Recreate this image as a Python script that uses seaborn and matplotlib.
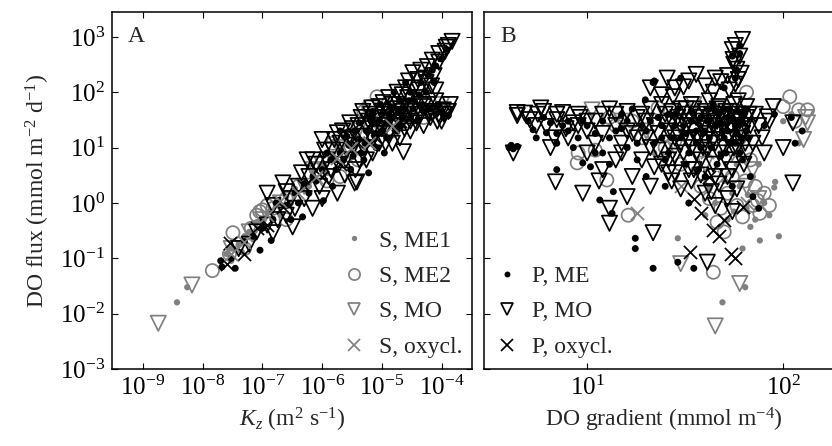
import matplotlib
matplotlib.use("Agg")
import matplotlib.pyplot as plt
from matplotlib.lines import Line2D
from matplotlib.ticker import FixedLocator, LogFormatterMathtext, NullLocator
import seaborn as sns

sns.set_theme(style="ticks")
plt.rcParams["font.family"] = ["Liberation Serif", "DejaVu Serif"]
plt.rcParams["mathtext.fontset"] = "custom"
plt.rcParams["mathtext.rm"] = "Liberation Serif"
plt.rcParams["mathtext.it"] = "Liberation Serif:italic"

GRAY = "#808080"
BLACK = "#000000"

# tick positions
a_xticks = [1e-9, 1e-8, 1e-7, 1e-6, 1e-5, 1e-4]
b_xticks = [10, 100]
yticks = [1e-3, 1e-2, 1e-1, 1e0, 1e1, 1e2, 1e3]

# ---- panel A: (Kz [m2 s-1], DO flux [mmol m-2 d-1]) ----
a_s_me1 = [(3.7e-9, 0.016), (5.5e-9, 0.03), (2.5e-8, 0.12), (3e-8, 0.15), (4e-8, 0.18),
           (5e-8, 0.25), (6e-8, 0.3), (8e-8, 0.45), (1e-7, 0.5), (1.3e-7, 0.7), (1.8e-7, 0.9),
           (2.5e-7, 1.3), (3.5e-7, 1.8), (5e-7, 2.5), (7e-7, 3.5), (1e-6, 5), (1.5e-6, 7),
           (2e-6, 9), (3e-6, 12), (4e-6, 15), (6e-6, 20), (8e-6, 25), (1.2e-5, 35), (3e-8, 0.09),
           (4.5e-8, 0.13), (7e-8, 0.22), (2e-7, 0.6), (3e-7, 1.0), (6e-7, 2.0), (1.2e-6, 3.5)]
a_s_me2 = [(1.45e-8, 0.06), (2.8e-8, 0.12), (3.2e-8, 0.29), (5e-8, 0.15), (6.5e-8, 0.35),
           (8e-8, 0.6), (1e-7, 0.75), (1.2e-7, 0.9), (9e-8, 0.7), (1.5e-7, 0.8), (2.5e-7, 1.2),
           (4e-7, 2.0), (8e-7, 4), (1.2e-6, 2.5), (2e-6, 3), (3e-6, 15), (5e-6, 45), (6e-6, 55),
           (8.3e-6, 83), (1e-5, 30), (1.5e-5, 20), (2e-5, 40), (3e-5, 60), (5e-5, 35), (7e-5, 45),
           (1.1e-4, 50), (4e-6, 6), (1.5e-6, 12), (2.5e-7, 0.5)]
a_s_mo = [(1.8e-9, 0.0067), (6.6e-9, 0.033), (3e-8, 0.15), (6e-8, 0.3), (1e-7, 0.5),
          (2e-7, 1.0), (5e-7, 2), (1e-6, 5), (2e-6, 10), (4e-6, 20), (1e-5, 30), (2e-5, 50),
          (6e-5, 40), (1e-4, 60), (3e-6, 8), (7e-7, 4)]
a_s_ox = [(3e-8, 0.12), (5e-8, 0.2), (1.2e-7, 0.6), (2e-7, 1.1), (4e-7, 1.5), (8e-7, 3),
          (3e-6, 10), (6e-6, 12), (1.5e-5, 25), (1.8e-6, 6.5)]
a_p_me = [(2.1e-8, 0.07), (3.5e-8, 0.066), (9.1e-8, 0.14), (1.4e-7, 0.21), (4.7e-7, 0.56),
          (1.05e-6, 1.1), (2e-8, 0.09), (3e-8, 0.1), (5e-8, 0.2), (7e-8, 0.25), (1e-7, 0.35),
          (1.5e-7, 0.5), (2.5e-7, 0.9), (3.5e-7, 1.5), (5e-7, 2.2), (7e-7, 3), (1e-6, 4),
          (1.4e-6, 6), (2e-6, 8), (2.8e-6, 11), (4e-6, 14), (5.5e-6, 20), (7e-6, 28), (1e-5, 40),
          (1.4e-5, 55), (2e-5, 70), (3e-5, 100), (4.5e-5, 150), (6e-5, 200), (8e-5, 300),
          (1e-4, 400), (1.2e-4, 600), (3e-6, 4), (5e-6, 6), (8e-6, 10), (1.2e-5, 15), (2e-5, 25),
          (3e-5, 35), (5e-5, 45), (8e-5, 40), (6e-6, 3.5), (1.5e-6, 2), (1e-5, 20), (2e-6, 20),
          (1.7e-7, 1.0), (3e-7, 0.5), (4e-7, 1.0), (6e-7, 1.5), (8e-7, 2.5), (1.2e-6, 8),
          (1.7e-6, 4), (2.3e-6, 6), (3.5e-6, 20), (4.5e-6, 8), (6e-6, 12), (7e-6, 45), (9e-6, 30),
          (1.1e-5, 8), (1.3e-5, 40), (1.6e-5, 100), (1.8e-5, 20), (2.4e-5, 50), (2.5e-5, 150),
          (3.5e-5, 70), (4e-5, 30), (5.5e-5, 100), (7e-5, 250), (9e-5, 60), (1.1e-4, 35),
          (2.6e-6, 16), (3.3e-6, 7), (4.2e-6, 28), (5.2e-6, 12), (6.2e-6, 35), (8e-6, 18),
          (9.5e-6, 60), (1.2e-5, 28), (1.5e-5, 35), (1.9e-5, 45), (2.3e-5, 35), (2.8e-5, 70),
          (3.3e-5, 50), (4.2e-5, 90), (4.8e-5, 60), (6.5e-5, 50), (7.5e-5, 150), (1e-4, 45),
          (1.3e-4, 38)]
a_p_mo = [(2.2e-7, 2.3), (5.6e-7, 6), (1e-6, 14), (1.8e-6, 18.5), (2.9e-6, 28), (6.8e-6, 52),
          (1.05e-5, 65), (1.8e-5, 100), (3.3e-5, 225), (5.8e-5, 290), (1.5e-4, 830),
          (1.2e-4, 650), (9e-5, 500), (7e-5, 380), (1.07e-4, 48), (7e-5, 42), (4.4e-5, 45),
          (2.6e-5, 40), (1.8e-5, 35), (2.3e-5, 8.4), (3.5e-6, 2.3), (1.8e-6, 1.5), (3.8e-6, 2.4),
          (6.9e-7, 0.8), (3.2e-7, 0.37), (1.5e-7, 0.29), (1e-6, 1.2), (3e-7, 1.2), (4e-7, 2),
          (6e-7, 3), (8e-7, 5), (1.2e-6, 6), (1.5e-6, 9), (2e-6, 12), (2.5e-6, 6), (3e-6, 15),
          (4e-6, 25), (5e-6, 10), (6e-6, 30), (8e-6, 18), (1e-5, 45), (1.2e-5, 25), (1.5e-5, 60),
          (2e-5, 15), (2.5e-5, 120), (3e-5, 30), (4e-5, 170), (5e-5, 25), (6e-5, 60), (8e-5, 110),
          (1e-4, 30), (4e-5, 80), (1.5e-5, 12), (7e-6, 8), (3e-5, 20), (4e-8, 0.15), (8e-8, 0.3),
          (1.2e-7, 0.4), (1.5e-7, 0.9), (2.5e-7, 0.6), (6e-8, 0.18),
          (1.2e-7, 1.5), (1.8e-7, 0.5), (2.5e-7, 1.6), (3.5e-7, 0.8), (4.5e-7, 3.5), (5e-7, 1.2),
          (7e-7, 6), (9e-7, 2), (1.1e-6, 9), (1.3e-6, 3), (1.6e-6, 14), (1.9e-6, 5), (2.2e-6, 20),
          (2.6e-6, 9), (3.2e-6, 22), (3.6e-6, 4), (4.5e-6, 35), (5e-6, 16), (5.5e-6, 6),
          (6.5e-6, 40), (7.5e-6, 25), (9e-6, 12), (9e-6, 55), (1.1e-5, 35), (1.3e-5, 80),
          (1.3e-5, 18), (1.7e-5, 50), (1.7e-5, 25), (2.2e-5, 90), (2.2e-5, 30), (2.8e-5, 160),
          (2.8e-5, 55), (3.5e-5, 40), (3.5e-5, 120), (4.5e-5, 250), (4.5e-5, 60), (5.5e-5, 150),
          (6.5e-5, 35), (7.5e-5, 200), (9e-5, 40), (9e-5, 350), (1.3e-4, 45), (1.3e-4, 700),
          (1.4e-6, 4), (2.4e-6, 3.2), (2.7e-6, 14), (3.4e-6, 11), (4.2e-6, 6), (4.8e-6, 45),
          (5.8e-6, 22), (7e-6, 14), (8.5e-6, 35), (1.0e-5, 22), (1.15e-5, 12), (1.4e-5, 40),
          (1.6e-5, 28), (1.9e-5, 60), (2.1e-5, 45), (2.4e-5, 22), (2.7e-5, 80), (3.2e-5, 45),
          (3.8e-5, 28), (4.2e-5, 110), (5e-5, 55), (5.2e-5, 180), (6.2e-5, 45), (6.8e-5, 130),
          (8e-5, 70), (8.5e-5, 30), (1.1e-4, 40), (1.15e-4, 550), (1.4e-4, 60)]
a_p_ox = [(2.9e-8, 0.19), (5e-8, 0.12), (2.5e-8, 0.08), (8e-8, 0.35), (1.2e-7, 0.4),
          (2.2e-7, 0.85), (5e-7, 2), (1e-6, 3), (2e-6, 5), (4e-6, 12), (8e-6, 15), (2e-5, 30)]

# ---- panel B: (DO gradient [mmol m-4], DO flux [mmol m-2 d-1]) ----
b_s_me1 = [(49, 0.016), (64, 0.03), (76, 0.21), (68, 0.37), (91, 2.4), (90, 1.9), (29, 0.23),
           (40, 0.6), (45, 1.0), (52, 0.5), (55, 1.5), (60, 2), (65, 0.8), (70, 3), (72, 0.5),
           (80, 1.0), (58, 5), (48, 8), (85, 0.6), (95, 0.25), (62, 0.15), (110, 40), (120, 12),
           (100, 30), (35, 4), (22, 8), (30, 20), (45, 30), (56, 0.7), (66, 1.4), (50, 2.5),
           (75, 5), (42, 1.8)]
b_s_me2 = [(8.9, 5.3), (12.6, 2.6), (16.2, 0.6), (44, 0.056), (74, 1.1), (76, 0.65), (62, 0.56),
           (108, 83), (133, 48), (120, 48), (23, 52), (9, 8), (14, 25), (19, 15), (25, 10),
           (30, 5), (38, 2), (42, 1.2), (48, 0.8), (55, 3), (60, 15), (68, 6), (72, 2), (80, 1.5),
           (85, 0.9), (50, 0.3), (100, 55), (115, 30), (65, 100), (45, 45), (52, 1.5), (58, 0.9),
           (64, 2.5), (46, 0.45), (70, 0.9), (13, 35), (17, 30), (11, 9)]
b_s_mo = [(10.6, 48), (30, 0.08), (60, 0.035), (45, 0.006), (133, 28), (127, 14), (15, 30),
          (20, 20), (28, 10), (40, 5), (55, 8), (65, 2), (70, 4), (75, 1.2), (130, 35), (35, 60)]
b_s_ox = [(18, 0.66), (41, 8.4), (50, 3), (65, 1), (30, 2)]
b_p_me = [(4.0, 10), (4.2, 9.5), (4.4, 10.5), (4.1, 11), (5.0, 30), (5.3, 21), (6.2, 18.5),
          (7.0, 12), (7.0, 4), (9.5, 5.3), (10.4, 4.5), (11.6, 1.13), (13.6, 1.6), (13.4, 0.65),
          (17.6, 0.23), (17.6, 0.15), (21.7, 0.066), (29, 0.085), (35, 0.066), (8, 20), (9, 15),
          (10, 25), (12, 30), (14, 20), (15, 40), (17, 50), (19.8, 73), (21.7, 150), (16, 10),
          (18, 6), (20, 3), (22, 12), (24, 25), (26, 8), (28, 40), (30, 15), (32, 5), (34, 30),
          (36, 20), (38, 10), (40, 3), (42, 50), (45, 25), (48, 7), (50, 15), (52, 35), (55, 2),
          (57, 12), (60, 500), (58, 250), (62, 6), (65, 20), (68, 3), (70, 1.3), (75, 0.8),
          (80, 25), (90, 40), (110, 35), (115, 12), (125, 20), (6, 35), (11, 8), (13, 5),
          (25, 2), (33, 1),
          (20, 20), (23, 35), (25, 6), (27, 15), (29, 50), (31, 25), (33, 8), (35, 40), (37, 4),
          (39, 18), (41, 30), (43, 10), (44, 60), (46, 5), (47, 40), (49, 20), (51, 8), (53, 50),
          (54, 12), (56, 30), (58, 18), (60, 8), (63, 40), (66, 15), (19, 25), (16, 30),
          (13, 15), (12, 8), (9.5, 30), (8.5, 10), (7.5, 25), (6.5, 28), (5.5, 15), (60, 700),
          (55, 450), (57, 180), (50, 120), (30, 180), (22, 160),
          (21, 30), (24, 15), (26, 40), (28, 25), (32, 18), (34, 45), (36, 12), (38, 35),
          (40, 20), (42, 15), (45, 45), (48, 28), (50, 50), (52, 20), (55, 35), (57, 25),
          (59, 45), (61, 15), (62, 28), (64, 50), (18, 12), (15, 22), (11, 18), (8, 30), (7, 18)]
b_p_mo = [(4.2, 8), (4.4, 43), (4.4, 38), (5.1, 32), (5.8, 52), (6.2, 24), (7.0, 32), (7.5, 43),
          (9.2, 35), (6.9, 2.4), (9.5, 1.5), (13, 0.8), (13, 0.43), (21.7, 0.29), (41, 0.085),
          (112, 2.3), (100, 10), (89, 55), (83, 36), (112, 28), (62, 900), (55, 590),
          (55.5, 390), (58, 260), (59, 170), (53, 110), (48, 155), (36, 210), (25.6, 180),
          (21, 120), (31, 125), (27.5, 83), (8, 15), (10, 20), (11, 12), (12, 4), (14, 25),
          (15, 8), (16, 45), (17, 3), (18, 15), (19, 6), (20, 30), (22, 4.5), (23, 9), (24, 60),
          (26, 20), (27, 2.5), (28, 7), (29, 35), (30, 12), (32, 50), (33, 4), (35, 20), (36, 8),
          (38, 30), (40, 14), (42, 70), (44, 5), (46, 20), (48, 40), (50, 10), (52, 3), (54, 25),
          (56, 60), (60, 15), (63, 5), (65, 35), (70, 12), (75, 25), (80, 8), (13, 50), (9, 40),
          (6.5, 10), (11.5, 2.5), (16, 1.3), (40, 1.5),
          (19, 40), (21, 10), (22, 25), (24, 5), (25, 40), (26, 12), (27, 30), (28, 3.5),
          (29, 18), (30, 50), (31, 8), (32, 25), (33, 14), (34, 60), (35, 4), (36, 35), (37, 15),
          (38, 6), (39, 22), (40, 45), (41, 9), (43, 28), (44, 14), (45, 3), (46, 50), (47, 8),
          (49, 25), (50, 35), (51, 6), (53, 15), (54, 45), (55, 4), (57, 30), (58, 10), (59, 70),
          (61, 22), (62, 40), (64, 12), (66, 8), (68, 25), (72, 40), (78, 15), (85, 30), (17, 18),
          (15, 12), (14, 6), (12, 18), (11, 30), (10, 8), (8.5, 28), (7.8, 22), (6.8, 15),
          (5.6, 40), (4.8, 42), (5.5, 25), (57, 700), (60, 450), (56, 320), (61, 220), (57, 140),
          (52, 200), (45, 180), (40, 130), (33, 160), (28, 120), (24, 90), (44, 100),
          (20, 15), (21, 50), (23, 18), (25, 28), (26, 6), (27, 45), (28, 15), (30, 25), (31, 40),
          (33, 30), (34, 10), (35, 50), (36, 15), (37, 40), (39, 10), (40, 25), (42, 18),
          (43, 40), (45, 12), (46, 30), (47, 55), (48, 18), (50, 25), (51, 45), (52, 15),
          (53, 35), (55, 20), (56, 10), (58, 40), (60, 30), (62, 18), (64, 25), (65, 55),
          (67, 40), (16, 20), (18, 35), (14, 40), (12, 40), (10, 30), (9, 25), (7, 40), (6, 45),
          (21, 2), (26, 3.5), (30, 1.8), (34, 2.5), (38, 3.2), (43, 1.6), (47, 2.2), (52, 1.2),
          (58, 1.8), (45, 0.9), (55, 0.7)]
b_p_ox = [(33.5, 0.13), (38, 0.65), (44, 0.32), (54, 0.12), (57, 0.1), (62, 0.85), (47, 0.25),
          (50, 0.5), (35, 1.2), (42, 3)]

# marker styles per group: (marker, size, filled, color)
styles = {
    "s_me1": ("o", 4.5, True, GRAY),
    "s_me2": ("o", 9.5, False, GRAY),
    "s_mo": ("v", 11, False, GRAY),
    "s_ox": ("x", 9.5, None, GRAY),
    "p_me": ("o", 5, True, BLACK),
    "p_mo": ("v", 11, False, BLACK),
    "p_ox": ("x", 9.5, None, BLACK),
}
LW = 1.25


def draw(ax, pts, key):
    marker, ms, filled, color = styles[key]
    xs = [p[0] for p in pts]
    ys = [p[1] for p in pts]
    if filled is None:
        sns.scatterplot(x=xs, y=ys, ax=ax, marker=marker, s=ms ** 2, color=color,
                        linewidth=LW, zorder=3)
    elif filled:
        sns.scatterplot(x=xs, y=ys, ax=ax, marker=marker, s=ms ** 2, color=color,
                        edgecolor="none", zorder=3)
    else:
        sns.scatterplot(x=xs, y=ys, ax=ax, marker=marker, s=ms ** 2, facecolor="none",
                        edgecolor=color, linewidth=LW, zorder=3)


def handle(key, label):
    marker, ms, filled, color = styles[key]
    ms = ms * 0.85
    if filled is None:
        return Line2D([], [], ls="none", marker=marker, ms=ms, color=color, mew=LW, label=label)
    if filled:
        return Line2D([], [], ls="none", marker=marker, ms=ms, color=color, mec="none", label=label)
    return Line2D([], [], ls="none", marker=marker, ms=ms, mfc="none", mec=color, mew=LW,
                  label=label)


fig = plt.figure(figsize=(8.32, 4.46), dpi=100)
axA = fig.add_axes([112 / 832, 1 - 369 / 446, 360 / 832, 357 / 446])
axB = fig.add_axes([484 / 832, 1 - 369 / 446, 360 / 832, 357 / 446])

panelA = [(a_s_me1, "s_me1"), (a_s_me2, "s_me2"), (a_s_mo, "s_mo"), (a_p_me, "p_me"),
          (a_p_mo, "p_mo"), (a_p_ox, "p_ox"), (a_s_ox, "s_ox")]
panelB = [(b_s_me1, "s_me1"), (b_s_me2, "s_me2"), (b_s_mo, "s_mo"), (b_s_ox, "s_ox"),
          (b_p_me, "p_me"), (b_p_mo, "p_mo"), (b_p_ox, "p_ox")]
for pts, key in panelA:
    draw(axA, pts, key)
for pts, key in panelB:
    draw(axB, pts, key)

for ax, xt in ((axA, a_xticks), (axB, b_xticks)):
    ax.set_xscale("log")
    ax.set_yscale("log")
    ax.set_ylim(1e-3, 10 ** 3.45)
    ax.xaxis.set_major_locator(FixedLocator(xt))
    ax.yaxis.set_major_locator(FixedLocator(yticks))
    ax.xaxis.set_major_formatter(LogFormatterMathtext())
    ax.yaxis.set_major_formatter(LogFormatterMathtext())
    ax.xaxis.set_minor_locator(NullLocator())
    ax.yaxis.set_minor_locator(NullLocator())
    ax.tick_params(which="major", direction="in", top=True, right=True, length=4,
                   width=0.8, labelsize=18, pad=5, colors="black")
    for sp in ax.spines.values():
        sp.set_linewidth(1.1)
        sp.set_color("black")
        sp.set_visible(True)

axA.set_xlim(10 ** -9.52, 10 ** -3.49)
axB.set_xlim(10 ** 0.474, 10 ** 2.31)
axB.tick_params(labelleft=False)

axA.set_xlabel(r"$K_z$ (m$^2$ s$^{-1}$)", fontsize=17, labelpad=4)
axA.set_ylabel(r"DO flux (mmol m$^{-2}$ d$^{-1}$)", fontsize=17, labelpad=6)
axB.set_xlabel(r"DO gradient (mmol m$^{-4}$)", fontsize=17, labelpad=4)

axA.text(0.045, 0.93, "A", transform=axA.transAxes, fontsize=17, va="center")
axB.text(0.045, 0.93, "B", transform=axB.transAxes, fontsize=17, va="center")

axA.legend(handles=[handle("s_me1", "S, ME1"), handle("s_me2", "S, ME2"),
                    handle("s_mo", "S, MO"), handle("s_ox", "S, oxycl.")],
           loc="lower right", bbox_to_anchor=(0.972, 0.031), frameon=False, fontsize=17,
           handletextpad=0.56, labelspacing=0.59, borderaxespad=0, borderpad=0,
           handlelength=1.0)
axB.legend(handles=[handle("p_me", "P, ME"), handle("p_mo", "P, MO"),
                    handle("p_ox", "P, oxycl.")],
           loc="lower left", bbox_to_anchor=(0.031, 0.031), frameon=False, fontsize=17,
           handletextpad=0.56, labelspacing=0.59, borderaxespad=0, borderpad=0,
           handlelength=1.0)

fig.savefig("out.png", dpi=100)
